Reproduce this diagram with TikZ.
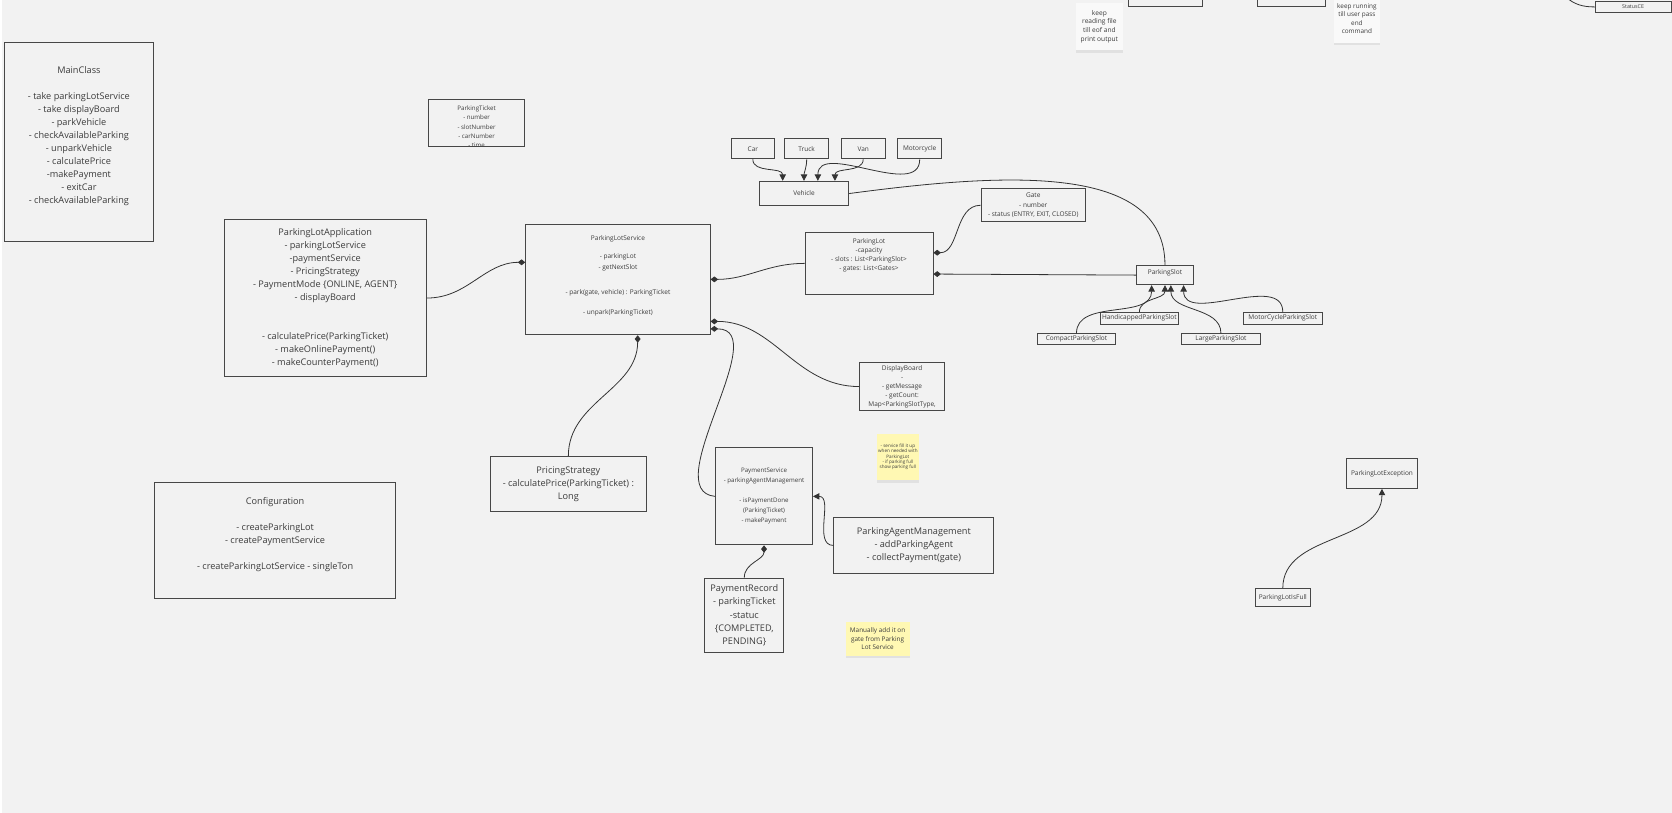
\documentclass[tikz,border=0pt]{standalone}
\usepackage{fontspec}
\setmainfont{Open Sans}
\usetikzlibrary{arrows.meta,shadows,calc}
\definecolor{canvas}{HTML}{F2F2F2}
\definecolor{edge}{HTML}{474747}
\definecolor{ink}{HTML}{3C3C3C}
\definecolor{wire}{HTML}{333333}
\definecolor{stickyyellow}{HTML}{FFF8B3}
\definecolor{stickywhite}{HTML}{F9F9F9}
\begin{document}
\begin{tikzpicture}[x=1pt, y=1pt,
  cls/.style={draw=edge, line width=0.8pt, text=ink, align=center, inner sep=0.5pt},
  bigtxt/.style={font=\fontsize{8.6}{12.2}\selectfont},
  smalltxt/.style={font=\fontsize{6.1}{9.4}\selectfont},
  tinytxt/.style={font=\fontsize{5.8}{8.7}\selectfont},
  note/.style={fill=stickyyellow, text=ink, align=center, inner sep=0pt, drop shadow={shadow xshift=0pt, shadow yshift=-2.5pt, opacity=0.15}},
  plain/.style={draw=wire, line width=0.75pt},
  comp/.style={plain, -{Diamond[length=7pt,width=5.5pt]}},
  inh/.style={plain, -{Triangle[length=6pt,width=6pt]}},
]
\clip (0,0) rectangle (1568,-762);
\fill[canvas] (0,0) rectangle (1568,-762);
\fill[white] (0,0) rectangle (1.6,-762);

\node[cls, bigtxt, minimum width=140pt, minimum height=186pt] (main) at (74,-133) {MainClass\\[12.2pt]- take parkingLotService\\- take displayBoard\\- parkVehicle\\- checkAvailableParking\\- unparkVehicle\\- calculatePrice\\-makePayment\\- exitCar\\- checkAvailableParking\\\mbox{}};
\node[cls, minimum width=90pt, minimum height=44pt, path picture={\node[tinytxt, text=ink, align=center, anchor=north] (ticket-txt) at ([yshift=-3.5pt]path picture bounding box.north) {ParkingTicket\\- number\\- slotNumber\\- carNumber\\- time};}] (ticket) at (447,-115) {};
\node[cls, bigtxt, minimum width=190pt, minimum height=147pt] (app) at (305,-279.5) {ParkingLotApplication\\- parkingLotService\\-paymentService\\- PricingStrategy\\- PaymentMode \{ONLINE, AGENT\}\\- displayBoard\\[24.4pt]- calculatePrice(ParkingTicket)\\- makeOnlinePayment()\\- makeCounterPayment()};
\node[cls, font=\fontsize{6.1}{10}\selectfont, minimum width=173pt, minimum height=104pt] (svc) at (579.5,-262) {ParkingLotService\\[7pt]- parkingLot\\- getNextSlot\\[14pt]- park(gate, vehicle) : ParkingTicket\\[9pt]- unpark(ParkingTicket)\\[-2pt]\mbox{}};
\node[cls, bigtxt, minimum width=226pt, minimum height=109pt] (config) at (258,-506.5) {Configuration\\[12.2pt]- createParkingLot\\- createPaymentService\\[12.2pt]- createParkingLotService - singleTon\\\mbox{}};

\node[cls, smalltxt, minimum width=40pt, minimum height=19pt] (car) at (706,-139.5) {Car};
\node[cls, smalltxt, minimum width=41pt, minimum height=19pt] (truck) at (756.5,-139.5) {Truck};
\node[cls, smalltxt, minimum width=41pt, minimum height=19pt] (van) at (809.5,-139.5) {Van};
\node[cls, smalltxt, minimum width=41pt, minimum height=19pt] (moto) at (862.5,-139.5) {Motorcycle};
\node[cls, smalltxt, minimum width=84pt, minimum height=23pt] (vehicle) at (754,-181.5) {Vehicle};
\node[cls, font=\fontsize{6.1}{9}\selectfont, minimum width=98pt, minimum height=31pt] (gate) at (969,-192.5) {Gate\\- number\\- status (ENTRY, EXIT, CLOSED)};
\node[cls, font=\fontsize{6.1}{8.3}\selectfont, minimum width=120pt, minimum height=58pt] (lot) at (815,-247) {ParkingLot\\-capacity\\- slots : List<ParkingSlot>\\- gates: List<Gates>\\\mbox{}\\\mbox{}};
\node[cls, smalltxt, minimum width=53pt, minimum height=18pt, text depth=5pt] (slot) at (1092.5,-258) {ParkingSlot};
\node[cls, smalltxt, minimum width=73pt, minimum height=11pt] (handi) at (1068.5,-298.5) {HandicappedParkingSlot};
\node[cls, smalltxt, minimum width=73pt, minimum height=10pt] (compact) at (1009.5,-318) {CompactParkingSlot};
\node[cls, smalltxt, minimum width=74pt, minimum height=10pt] (large) at (1145,-318) {LargeParkingSlot};
\node[cls, smalltxt, minimum width=74pt, minimum height=11pt] (motoslot) at (1203,-298.5) {MotorCycleParkingSlot};
\node[cls, font=\fontsize{6.1}{8.5}\selectfont, minimum width=80pt, minimum height=45pt] (display) at (846,-362.5) {DisplayBoard\\-\\- getMessage\\- getCount:\\Map<ParkingSlotType,};

\node[cls, bigtxt, minimum width=146pt, minimum height=52pt] (pricing) at (533,-454) {PricingStrategy\\- calculatePrice(ParkingTicket) :\\Long};
\node[cls, font=\fontsize{5.8}{9.4}\selectfont, minimum width=91pt, minimum height=91pt] (paysvc) at (716.5,-465.5) {PaymentService\\- parkingAgentManagement\\[9.4pt]- isPaymentDone\\(ParkingTicket)\\- makePayment};
\node[cls, bigtxt, minimum width=150pt, minimum height=53pt] (agent) at (857,-511.5) {ParkingAgentManagement\\- addParkingAgent\\- collectPayment(gate)};
\node[cls, font=\fontsize{8.6}{12.4}\selectfont, minimum width=74pt, minimum height=70pt] (record) at (698,-577) {PaymentRecord\\- parkingTicket\\-statuc\\\{COMPLETED,\\PENDING\}};

\node[cls, smalltxt, minimum width=66pt, minimum height=28pt] (exception) at (1296,-444) {ParkingLotException};
\node[cls, smalltxt, minimum width=52pt, minimum height=17pt] (full) at (1203,-560.5) {ParkingLotIsFull};

\node[cls, minimum width=70pt, minimum height=26pt] (toprowA) at (1093,7) {};
\node[cls, minimum width=64pt, minimum height=26pt] (toprowB) at (1211,7) {};
\node[cls, font=\fontsize{5}{6}\selectfont, minimum width=71pt, minimum height=10pt] (status) at (1531.5,-6.5) {StatusCE};

\node[note, font=\fontsize{4.3}{5}\selectfont, minimum width=40pt, minimum height=43pt] (fillnote) at (842,-428.5) {- service fill it up\\when needed with\\ParkingLot\\- if parking full\\show parking full};
\node[note, font=\fontsize{6}{8}\selectfont, minimum width=60pt, minimum height=32pt] (gatenote) at (823,-599) {Manually add it on\\gate from Parking\\Lot Service};
\node[note, fill=stickywhite, font=\fontsize{6.2}{8.3}\selectfont, minimum width=44pt, minimum height=44pt] (filenote) at (1031,-25) {keep\\reading file\\till eof and\\print output};
\node[note, fill=stickywhite, font=\fontsize{6}{8}\selectfont, minimum width=43pt, minimum height=45pt] (loopnote) at (1272.5,-17.5) {keep running\\till user pass\\end\\command};

\draw[comp] (app.east) to[out=0,in=180] ($(svc.west)+(0,16)$);
\draw[comp] (lot.west) to[out=180,in=0] (svc.east);
\draw[comp] (pricing.north) to[out=90,in=-90] ($(svc.south)+(18.5,0)$);
\draw[comp] (display.west) to[out=180,in=0] ($(svc.south east)+(0,13)$);
\draw[comp] (paysvc.west) .. controls +(-55,5) and +(60,0) .. ($(svc.south east)+(0,6)$);
\draw[comp] (gate.west) to[out=180,in=0] ($(lot.east)+(0,10)$);
\draw[comp] (slot.west) -- ($(lot.east)+(0,-10)$);
\draw[comp] (record.north) to[out=90,in=-90] (paysvc.south);
\draw[plain] (vehicle.east) .. controls +(150,20) and +(0,95) .. (slot.north);
\draw[inh] (car.south) to[out=-90,in=90] ($(vehicle.north)+(-20,0)$);
\draw[inh] (truck.south) to[out=-90,in=90] (vehicle.north);
\draw[inh] (van.south) to[out=-90,in=90] ($(vehicle.north)+(29,0)$);
\draw[inh] (moto.south) to[out=-90,in=90] ($(vehicle.north)+(13,0)$);
\draw[inh] (compact.north) to[out=90,in=-90] ($(slot.south)+(-12.5,0)$);
\draw[inh] (handi.north) to[out=90,in=-90] (slot.south);
\draw[inh] (large.north) to[out=90,in=-90] ($(slot.south)+(5.5,0)$);
\draw[inh] (motoslot.north) to[out=90,in=-90] ($(slot.south)+(17.5,0)$);
\draw[inh] (full.north) to[out=90,in=-90] (exception.south);
\draw[inh] (agent.west) to[out=180,in=0] (paysvc.east);
\coordinate (statusend) at (1468,3);
\draw[plain] (statusend) to[out=-40,in=180] (status.west);
\end{tikzpicture}
\end{document}
